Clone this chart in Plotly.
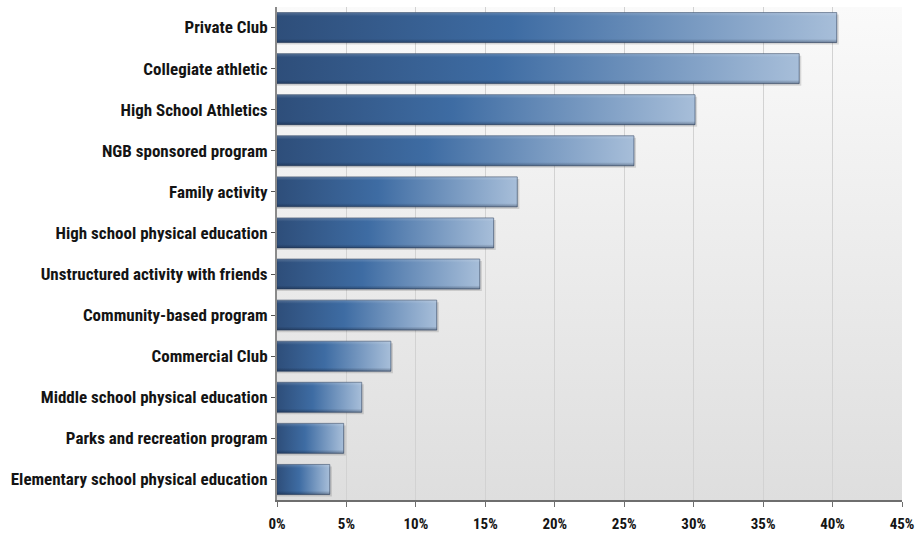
import plotly.graph_objects as go

# Survey categories, listed top to bottom, with their share of respondents (%)
categories = [
    "Private Club",
    "Collegiate athletic",
    "High School Athletics",
    "NGB sponsored program",
    "Family activity",
    "High school physical education",
    "Unstructured activity with friends",
    "Community-based program",
    "Commercial Club",
    "Middle school physical education",
    "Parks and recreation program",
    "Elementary school physical education",
]
shares = [40.3, 37.6, 30.1, 25.7, 17.3, 15.6, 14.6, 11.5, 8.2, 6.1, 4.8, 3.8]

x_ticks = [0, 5, 10, 15, 20, 25, 30, 35, 40, 45]
x_tick_labels = [f"{t}%" for t in x_ticks]

LABEL_FONT = "Liberation Sans Narrow, Arial Narrow, Roboto Condensed, sans-serif"
HALF = 0.365          # half bar thickness in category units
n = len(categories)
positions = [n - 1 - i for i in range(n)]  # first category at the top

fig = go.Figure()

# soft drop shadow under each bar
for pos, v in zip(positions, shares):
    fig.add_trace(go.Scatter(
        x=[0, v + 0.15, v + 0.15, 0, 0],
        y=[pos - HALF - 0.05, pos - HALF - 0.05, pos + HALF - 0.05, pos + HALF - 0.05, pos - HALF - 0.05],
        fill="toself", mode="lines", line=dict(width=0),
        fillcolor="rgba(0,0,0,0.13)", hoverinfo="skip", showlegend=False,
    ))

# bars: horizontal gradient dark -> mid blue -> light
for pos, v in zip(positions, shares):
    xs = [0, v, v, 0, 0]
    ys = [pos - HALF, pos - HALF, pos + HALF, pos + HALF, pos - HALF]
    fig.add_trace(go.Scatter(
        x=xs, y=ys, fill="toself", mode="lines",
        line=dict(width=1, color="rgba(45,65,95,0.6)"),
        fillgradient=dict(
            type="horizontal",
            colorscale=[[0, "#2e4e7a"], [0.42, "#3e6ca3"], [1, "#a7bed9"]],
        ),
        hoverinfo="skip", showlegend=False,
    ))
    # vertical sheen: darker lower edge, lighter upper edge
    fig.add_trace(go.Scatter(
        x=xs, y=ys, fill="toself", mode="lines", line=dict(width=0),
        fillgradient=dict(
            type="vertical",
            colorscale=[[0, "rgba(10,20,40,0.35)"], [0.12, "rgba(10,20,40,0)"],
                        [0.88, "rgba(255,255,255,0)"], [1, "rgba(255,255,255,0.18)"]],
        ),
        hoverinfo="skip", showlegend=False,
    ))

# plot-area background: light vertical gradient
bg_svg = (
    "data:image/svg+xml;utf8,"
    "<svg xmlns='http://www.w3.org/2000/svg' width='100' height='100' preserveAspectRatio='none'>"
    "<defs><linearGradient id='g' x1='0' y1='0' x2='0' y2='1'>"
    "<stop offset='0' stop-color='%23fafafa'/><stop offset='1' stop-color='%23dedede'/>"
    "</linearGradient></defs><rect width='100' height='100' fill='url(%23g)'/></svg>"
)

fig.update_layout(
    width=915, height=538,
    margin=dict(l=277, r=13, t=7, b=38),
    paper_bgcolor="white",
    plot_bgcolor="rgba(0,0,0,0)",
    images=[dict(
        source=bg_svg, xref="paper", yref="paper", x=0, y=1,
        sizex=1, sizey=1, sizing="stretch", layer="below",
        xanchor="left", yanchor="top",
    )],
    xaxis=dict(
        range=[0, 45], tickvals=x_ticks, ticktext=x_tick_labels,
        showgrid=True, gridcolor="#d2d2d2", gridwidth=1,
        zeroline=False, showline=True, linecolor="#6e6e6e", linewidth=2,
        ticks="outside", ticklen=5, tickcolor="#6e6e6e", tickwidth=1,
        ticklabelstandoff=4,
        tickfont=dict(family=LABEL_FONT, size=15, color="#141414", weight="bold"),
        automargin=False, fixedrange=True,
    ),
    yaxis=dict(
        range=[-0.5, n - 0.5], tickvals=positions, ticktext=categories,
        showgrid=False, zeroline=False, showline=True, linecolor="#8a8a8a", linewidth=2,
        ticks="outside", ticklen=4, tickcolor="#555555", tickwidth=1,
        tickfont=dict(family=LABEL_FONT, size=17, color="#141414", weight="bold"),
        automargin=False, fixedrange=True,
    ),
    showlegend=False,
)

fig.write_html("out.html")
